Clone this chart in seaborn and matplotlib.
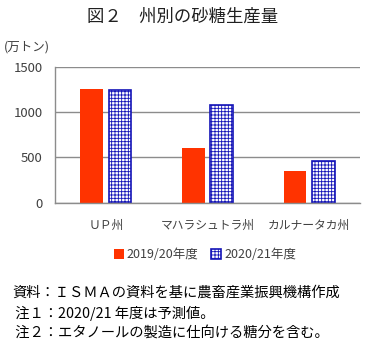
import matplotlib
matplotlib.use("Agg")
import matplotlib.pyplot as plt
import seaborn as sns
import pandas as pd
from matplotlib.patches import Patch

categories = ["ＵＰ州", "マハラシュトラ州", "カルナータカ州"]
series_names = ["2019/20年度", "2020/21年度"]
values_2019 = [1252, 610, 349]
values_2021 = [1245, 1084, 459]
yticks = [0, 500, 1000, 1500]

sns.set_theme(style="white")
plt.rcParams['font.family'] = ['Noto Sans CJK JP', 'DejaVu Sans']
plt.rcParams['hatch.linewidth'] = 0.6

df = pd.DataFrame({
    "州": categories * 2,
    "年度": [series_names[0]] * 3 + [series_names[1]] * 3,
    "生産量": values_2019 + values_2021,
})

red = "#FF3300"
blue = "#1414B8"

fig = plt.figure(figsize=(3.66, 3.48), dpi=100)
ax = fig.add_axes([55/366, 1 - 202.7/348, 305/366, (202.7 - 67)/348])

sns.barplot(data=df, x="州", y="生産量", hue="年度", hue_order=series_names,
            palette=[red, "white"], width=0.56, gap=0.2, ax=ax, legend=False,
            saturation=1)

for bar in ax.containers[0]:
    bar.set_facecolor(red)
    bar.set_edgecolor(red)
    bar.set_linewidth(0)
for bar in ax.containers[1]:
    bar.set_facecolor("white")
    bar.set_edgecolor(blue)
    bar.set_hatch("+++++")
    bar.set_linewidth(1.2)

ax.set_xlim(-0.5, 2.5)
ax.set_ylim(0, 1500)
ax.set_yticks(yticks)
ax.set_yticklabels([str(t) for t in yticks])
ax.yaxis.grid(True, color="#8C8C8C", linewidth=1.0)
ax.set_axisbelow(True)
ax.set_xlabel("")
ax.set_ylabel("")
for s in ["top", "right"]:
    ax.spines[s].set_visible(False)
for s in ["left", "bottom"]:
    ax.spines[s].set_color("#8C8C8C")
    ax.spines[s].set_linewidth(1.0)
ax.tick_params(axis="y", length=0, labelsize=9.5, colors="#404040", pad=9)
ax.tick_params(axis="x", length=0, labelsize=8.5, colors="#404040", pad=12)

fig.text(0.5, 1 - 17/348, "図２　州別の砂糖生産量", ha="center", va="center",
         fontsize=12.5, color="#202020")
fig.text(4/366, 1 - 47/348, "(万トン)", ha="left", va="center",
         fontsize=9, color="#404040")

handles = [Patch(facecolor=red, edgecolor=red, linewidth=0),
           Patch(facecolor="white", edgecolor=blue, hatch="+++++", linewidth=1.2)]
fig.legend(handles, series_names, loc="center", bbox_to_anchor=(205/366, 1 - 255/348),
           ncol=2, frameon=False, fontsize=9, handlelength=0.8, handleheight=0.8,
           handletextpad=0.25, columnspacing=1.0, labelcolor="#404040")

notes = ["資料：ＩＳＭＡの資料を基に農畜産業振興機構作成",
         " 注１：2020/21 年度は予測値。",
         " 注２：エタノールの製造に仕向ける糖分を含む。"]
for i, t in enumerate(notes):
    fig.text(12/366, 1 - (293 + i*20)/348, t, ha="left", va="center",
             fontsize=10.3, color="black")

fig.savefig("out.png", dpi=100)
